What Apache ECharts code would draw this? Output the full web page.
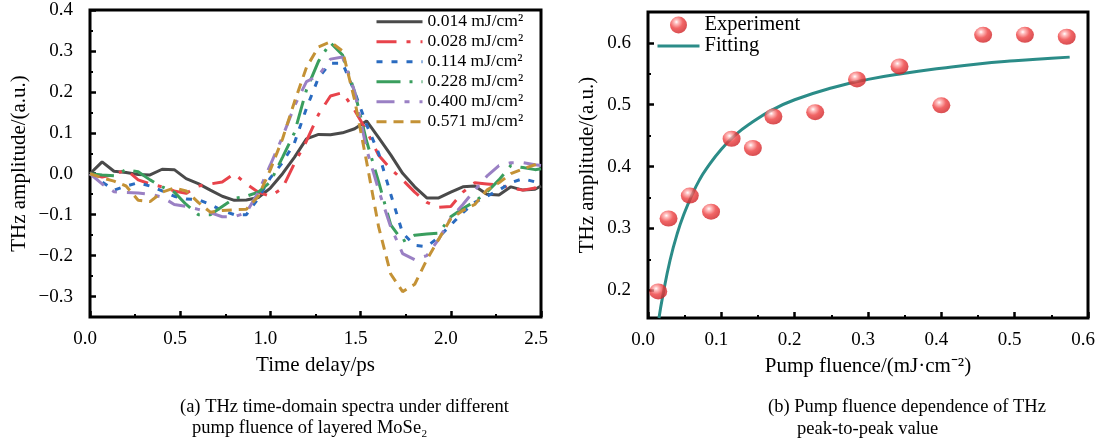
<!DOCTYPE html>
<html><head><meta charset="utf-8">
<script src="https://cdn.jsdelivr.net/npm/echarts@6/dist/echarts.min.js"></script>
<style>html,body{margin:0;padding:0;background:#fff}#c{width:1113px;height:446px}</style>
</head><body><div id="c"></div>
<script>
// ---------- data ----------
const timeDelay = [0, 0.067, 0.133, 0.2, 0.267, 0.333, 0.4, 0.467, 0.533, 0.6, 0.667, 0.733, 0.8, 0.867, 0.933, 1.0,
  1.067, 1.133, 1.2, 1.267, 1.333, 1.4, 1.467, 1.533, 1.6, 1.667, 1.733, 1.8, 1.867, 1.933, 2.0,
  2.067, 2.133, 2.2, 2.267, 2.333, 2.4, 2.467, 2.5];
const fluenceNames = ['0.014 mJ/cm²', '0.028 mJ/cm²', '0.114 mJ/cm²', '0.228 mJ/cm²', '0.400 mJ/cm²', '0.571 mJ/cm²'];
const amp014 = [0.0, 0.029, 0.006, 0.003, -0.002, -0.003, 0.011, 0.01, -0.012, -0.024, -0.04, -0.055, -0.065, -0.064, -0.058, -0.035,
  0.0, 0.04, 0.085, 0.096, 0.095, 0.1, 0.11, 0.129, 0.088, 0.046, 0.001, -0.032, -0.059, -0.059, -0.045,
  -0.032, -0.03, -0.05, -0.052, -0.032, -0.04, -0.038, -0.03];
const amp028 = [0.0, -0.008, -0.002, 0.01, -0.015, -0.025, -0.032, -0.042, -0.048, -0.03, -0.025, -0.02, 0.0, -0.025, -0.045, -0.055,
  -0.035, 0.025, 0.08, 0.145, 0.19, 0.198, 0.155, 0.105, 0.045, 0.012, -0.015, -0.045, -0.07, -0.082, -0.08,
  -0.045, -0.022, -0.025, -0.028, -0.035, -0.04, -0.035, -0.02];
const amp114 = [0.0, -0.02, -0.04, -0.03, -0.022, -0.03, -0.042, -0.055, -0.062, -0.063, -0.075, -0.09, -0.1, -0.1, -0.06, -0.01,
  0.027, 0.075, 0.16, 0.235, 0.27, 0.27, 0.2, 0.12, 0.05, -0.05, -0.145, -0.175, -0.178, -0.155, -0.125,
  -0.095, -0.07, -0.055, -0.04, -0.022, -0.012, -0.02, -0.03];
const amp228 = [0.0, -0.003, -0.005, 0.01, 0.005, -0.015, -0.032, -0.045, -0.075, -0.1, -0.1, -0.08, -0.06, -0.055, -0.045, -0.02,
  0.04, 0.1, 0.205, 0.275, 0.32, 0.29, 0.2, 0.08, -0.02, -0.125, -0.165, -0.15, -0.147, -0.145, -0.105,
  -0.085, -0.068, -0.045, -0.015, 0.02, 0.015, 0.01, 0.012];
const amp400 = [0.0, -0.025, -0.044, -0.046, -0.047, -0.05, -0.057, -0.075, -0.08, -0.087, -0.095, -0.105, -0.105, -0.095, -0.045, 0.022,
  0.09, 0.165, 0.225, 0.24, 0.28, 0.285, 0.2, 0.06, -0.04, -0.13, -0.195, -0.21, -0.2, -0.16, -0.108,
  -0.075, -0.04, -0.006, 0.02, 0.027, 0.027, 0.022, 0.02];
const amp571 = [0.0, -0.01, -0.018, -0.03, -0.065, -0.068, -0.045, -0.035, -0.042, -0.07, -0.094, -0.09, -0.088, -0.087, -0.055, 0.01,
  0.085, 0.175, 0.26, 0.31, 0.322, 0.3, 0.18, 0.03, -0.13, -0.245, -0.288, -0.27, -0.21, -0.16, -0.11,
  -0.09, -0.075, -0.04, -0.022, 0.0, 0.012, 0.022, 0.03];

const pumpFluence = [0.014, 0.028, 0.057, 0.086, 0.114, 0.143, 0.171, 0.228, 0.285, 0.343, 0.400, 0.457, 0.514, 0.571];
const thzPeak = [0.198, 0.316, 0.353, 0.327, 0.445, 0.430, 0.481, 0.488, 0.541, 0.562, 0.499, 0.613, 0.613, 0.610];
const fitFluence = [0.015, 0.02, 0.03, 0.04, 0.05, 0.06, 0.07, 0.08, 0.1, 0.12, 0.14, 0.17, 0.2, 0.25, 0.3, 0.35, 0.4, 0.45, 0.5, 0.55, 0.575];
const fitAmp = [0.155, 0.190, 0.248, 0.292, 0.326, 0.354, 0.378, 0.397, 0.428, 0.452, 0.470, 0.492, 0.508, 0.527, 0.541, 0.551, 0.559, 0.566, 0.571, 0.575, 0.577];

const leftXTicks = [0, 0.5, 1.0, 1.5, 2.0, 2.5];
const leftXMinor = [0.25, 0.75, 1.25, 1.75, 2.25];
const leftYTicks = [-0.3, -0.2, -0.1, 0.0, 0.1, 0.2, 0.3, 0.4];
const leftYMinor = [-0.25, -0.15, -0.05, 0.05, 0.15, 0.25, 0.35];
const rightXTicks = [0, 0.1, 0.2, 0.3, 0.4, 0.5, 0.6];
const rightXMinor = [0.05, 0.15, 0.25, 0.35, 0.45, 0.55];
const rightYTicks = [0.2, 0.3, 0.4, 0.5, 0.6];
const rightYMinor = [0.25, 0.35, 0.45, 0.55];

// ---------- styles ----------
const FONT = '"Liberation Serif", "Times New Roman", serif';
const colors = ['#4a4a4a', '#e8434b', '#2a6bc0', '#3a9e5e', '#9a80c4', '#c49236'];
const dashes = ['solid', [20, 10, 4, 10], [6, 9], [24, 9, 3, 9], [18, 10, 5, 10], [10, 7]];
const ampSets = [amp014, amp028, amp114, amp228, amp400, amp571];
const fmt = v => (v < 0 ? '\u2212' : '') + Math.abs(v).toFixed(1);
const zip = (a, b) => a.map((x, i) => [x, b[i]]);

function xAx(grid, min, max, ticks, minor, name, isMinor) {
  const base = {
    type: 'value', gridIndex: grid, min: min, max: max, position: 'bottom',
    axisLine: {show: false, onZero: false}, splitLine: {show: false}
  };
  if (isMinor) {
    return Object.assign(base, {
      axisLabel: {show: false},
      axisTick: {show: true, inside: true, length: 3, customValues: minor, lineStyle: {color: '#000', width: 2}}
    });
  }
  return Object.assign(base, {
    name: name, nameLocation: 'middle', nameGap: 38,
    nameTextStyle: {fontFamily: FONT, fontSize: 21, color: '#000'},
    axisLabel: {customValues: ticks, formatter: fmt, fontFamily: FONT, fontSize: 19, color: '#000', margin: 13, padding: [0, 10, 0, 0]},
    axisTick: {show: true, inside: true, length: 6, customValues: ticks, lineStyle: {color: '#000', width: 2.5}}
  });
}
function yAx(grid, min, max, ticks, minor, name, gap, isMinor) {
  const base = {
    type: 'value', gridIndex: grid, min: min, max: max, position: 'left',
    axisLine: {show: false, onZero: false}, splitLine: {show: false}
  };
  if (isMinor) {
    return Object.assign(base, {
      axisLabel: {show: false},
      axisTick: {show: true, inside: true, length: 3, customValues: minor, lineStyle: {color: '#000', width: 2}}
    });
  }
  return Object.assign(base, {
    name: name, nameLocation: 'middle', nameGap: gap,
    nameTextStyle: {fontFamily: FONT, fontSize: 21, color: '#000'},
    axisLabel: {customValues: ticks, formatter: fmt, fontFamily: FONT, fontSize: 19, color: '#000', margin: 17},
    axisTick: {show: true, inside: true, length: 6, customValues: ticks, lineStyle: {color: '#000', width: 2.5}}
  });
}

const series = ampSets.map((arr, i) => ({
  name: fluenceNames[i], type: 'line', xAxisIndex: 0, yAxisIndex: 0,
  data: zip(timeDelay, arr), symbol: 'none', showSymbol: false,
  lineStyle: {color: colors[i], width: 3, type: dashes[i]},
  itemStyle: {color: colors[i], opacity: 0}, z: 3 + i
}));

const sphere = {
  type: 'radial', x: 0.38, y: 0.32, r: 0.68,
  colorStops: [
    {offset: 0, color: '#ffffff'}, {offset: 0.18, color: '#ffb0b0'},
    {offset: 0.55, color: '#ee3f40'}, {offset: 1, color: '#cf2226'}
  ]
};

series.push({
  name: 'Fitting', type: 'line', xAxisIndex: 2, yAxisIndex: 2,
  data: zip(fitFluence, fitAmp), smooth: true, symbol: 'none', showSymbol: false,
  lineStyle: {color: '#2b8c88', width: 3}, itemStyle: {color: '#2b8c88', opacity: 0}, z: 3
});
series.push({
  name: 'Experiment', type: 'scatter', xAxisIndex: 2, yAxisIndex: 2,
  data: zip(pumpFluence, thzPeak), symbol: 'circle', symbolSize: [18, 16],
  itemStyle: {color: sphere}, z: 5
});

const option = {
  animation: false,
  backgroundColor: '#fff',
  textStyle: {fontFamily: FONT},
  grid: [
    {left: 90, top: 10, width: 451, height: 307, show: true, borderColor: '#000', borderWidth: 3, backgroundColor: 'transparent'},
    {left: 648, top: 12, width: 440, height: 306, show: true, borderColor: '#000', borderWidth: 3, backgroundColor: 'transparent'}
  ],
  xAxis: [
    xAx(0, 0, 2.5, leftXTicks, leftXMinor, 'Time delay/ps', false),
    xAx(0, 0, 2.5, leftXTicks, leftXMinor, '', true),
    xAx(1, 0, 0.6, rightXTicks, rightXMinor, 'Pump fluence/(mJ\u00b7cm\u207b\u00b2)', false),
    xAx(1, 0, 0.6, rightXTicks, rightXMinor, '', true)
  ],
  yAxis: [
    yAx(0, -0.35, 0.4, leftYTicks, leftYMinor, 'THz amplitude/(a.u.)', 60, false),
    yAx(0, -0.35, 0.4, leftYTicks, leftYMinor, '', 0, true),
    yAx(1, 0.155, 0.65, rightYTicks, rightYMinor, 'THz amplitude/(a.u.)', 50, false),
    yAx(1, 0.155, 0.65, rightYTicks, rightYMinor, '', 0, true)
  ],
  legend: [
    {
      data: fluenceNames.map(n => ({name: n, itemStyle: {opacity: 0}})),
      orient: 'vertical', left: 370, top: 6.7, padding: 5,
      itemWidth: 46, itemHeight: 10, itemGap: 0,
      lineStyle: {width: 3},
      textStyle: {fontFamily: FONT, fontSize: 17.5, color: '#000', lineHeight: 20}
    },
    {
      data: ['Experiment', {name: 'Fitting', itemStyle: {opacity: 0}}],
      orient: 'vertical', left: 651, top: 9.5, padding: 5,
      itemWidth: 42, itemHeight: 17, itemGap: 0,
      lineStyle: {width: 3},
      textStyle: {fontFamily: FONT, fontSize: 20.5, color: '#000', lineHeight: 21}
    }
  ],
  graphic: [
    {type: 'text', left: 180, top: 398, style: {text: '(a) THz time-domain spectra under different', font: '18.5px "Liberation Serif", serif', fill: '#000'}},
    {type: 'text', left: 192, top: 419, style: {text: 'pump fluence of layered MoSe\u2082', font: '18.5px "Liberation Serif", serif', fill: '#000'}},
    {type: 'text', left: 768, top: 398, style: {text: '(b) Pump fluence dependence of THz', font: '18.5px "Liberation Serif", serif', fill: '#000'}},
    {type: 'text', left: 797, top: 420, style: {text: 'peak-to-peak value', font: '18.5px "Liberation Serif", serif', fill: '#000'}}
  ],
  series: series
};

const chart = echarts.init(document.getElementById('c'), null, {renderer: 'canvas'});
chart.setOption(option);
</script>
</body></html>
